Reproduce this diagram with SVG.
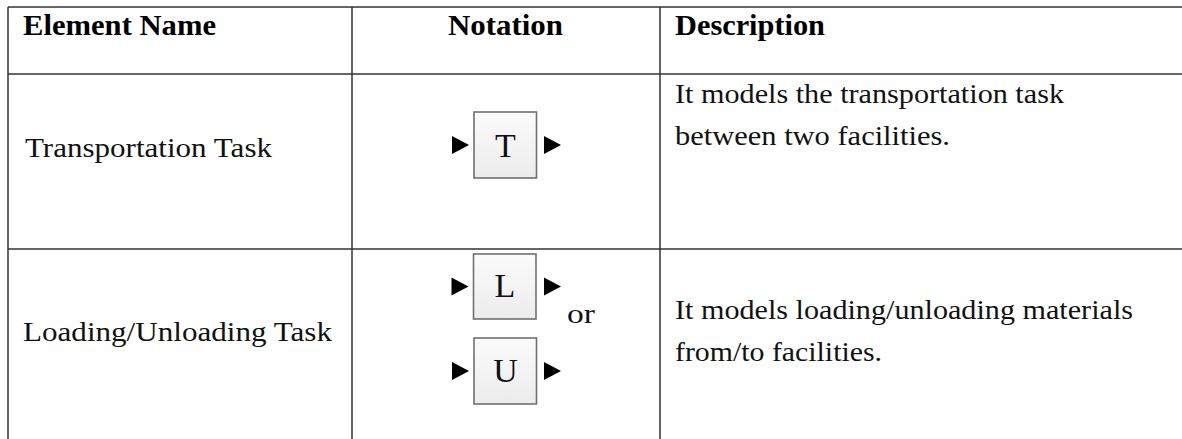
<svg xmlns="http://www.w3.org/2000/svg" xmlns:xlink="http://www.w3.org/1999/xlink" width="1182" height="439" viewBox="0 0 1182 439">
  <style>
    .grid { stroke: #333333; stroke-width: 1.5; fill: none; }
    .hd { font-family: "Liberation Serif", "Times New Roman", serif; font-weight: bold; font-size: 29px; fill: #000; }
    .tx { font-family: "Liberation Serif", "Times New Roman", serif; font-size: 27px; fill: #111; }
    .sym { font-family: "Liberation Serif", "Times New Roman", serif; font-size: 34px; fill: #111; text-anchor: middle; }
    .box { fill: url(#boxfill); stroke: #707070; stroke-width: 1.6; }
    .tri { fill: #000; }
  </style>
  <defs>
    <linearGradient id="boxfill" x1="0" y1="0" x2="0" y2="1">
      <stop offset="0" stop-color="#fbfbfb"/>
      <stop offset="1" stop-color="#ececec"/>
    </linearGradient>
    <path id="tri" d="M0,-9 L17,0 L0,9 Z"/>
  </defs>
  <rect width="1182" height="439" fill="#ffffff"/>

  <g id="table-grid">
    <line class="grid" x1="8" y1="7" x2="1182" y2="7"/>
    <line class="grid" x1="8" y1="74" x2="1182" y2="74"/>
    <line class="grid" x1="8" y1="249" x2="1182" y2="249"/>
    <line class="grid" x1="8" y1="7" x2="8" y2="439"/>
    <line class="grid" x1="352" y1="7" x2="352" y2="439"/>
    <line class="grid" x1="660" y1="7" x2="660" y2="439"/>
  </g>

  <g id="header">
    <text class="hd" x="23" y="35" textLength="193" lengthAdjust="spacingAndGlyphs">Element Name</text>
    <text class="hd" x="448" y="35" textLength="115" lengthAdjust="spacingAndGlyphs">Notation</text>
    <text class="hd" x="675" y="35" textLength="150" lengthAdjust="spacingAndGlyphs">Description</text>
  </g>

  <g id="row-transportation">
    <text class="tx" x="25" y="157" textLength="247" lengthAdjust="spacingAndGlyphs">Transportation Task</text>
    <text class="tx" x="675" y="103" textLength="389" lengthAdjust="spacingAndGlyphs">It models the transportation task</text>
    <text class="tx" x="675" y="145" textLength="275" lengthAdjust="spacingAndGlyphs">between two facilities.</text>
  </g>

  <g id="node-T">
    <use href="#tri" xlink:href="#tri" class="tri" x="452" y="145"/>
    <rect class="box" x="474" y="112" width="62.5" height="66"/>
    <text class="sym" x="505.5" y="157">T</text>
    <use href="#tri" xlink:href="#tri" class="tri" x="544" y="145"/>
  </g>

  <g id="row-loading">
    <text class="tx" x="23" y="341" textLength="309" lengthAdjust="spacingAndGlyphs">Loading/Unloading Task</text>
    <text class="tx" x="675" y="319" textLength="458" lengthAdjust="spacingAndGlyphs">It models loading/unloading materials</text>
    <text class="tx" x="675" y="361" textLength="207" lengthAdjust="spacingAndGlyphs">from/to facilities.</text>
  </g>

  <g id="node-L">
    <use href="#tri" xlink:href="#tri" class="tri" x="451.5" y="286.5"/>
    <rect class="box" x="473.5" y="254" width="62.5" height="65"/>
    <text class="sym" x="505" y="297">L</text>
    <use href="#tri" xlink:href="#tri" class="tri" x="544" y="286.5"/>
  </g>

  <text class="tx" x="567" y="323" textLength="28" lengthAdjust="spacingAndGlyphs">or</text>

  <g id="node-U">
    <use href="#tri" xlink:href="#tri" class="tri" x="452" y="371"/>
    <rect class="box" x="474" y="338" width="62.5" height="66"/>
    <text class="sym" x="505.5" y="382">U</text>
    <use href="#tri" xlink:href="#tri" class="tri" x="544" y="371"/>
  </g>

  <g id="connectors"/>
</svg>
